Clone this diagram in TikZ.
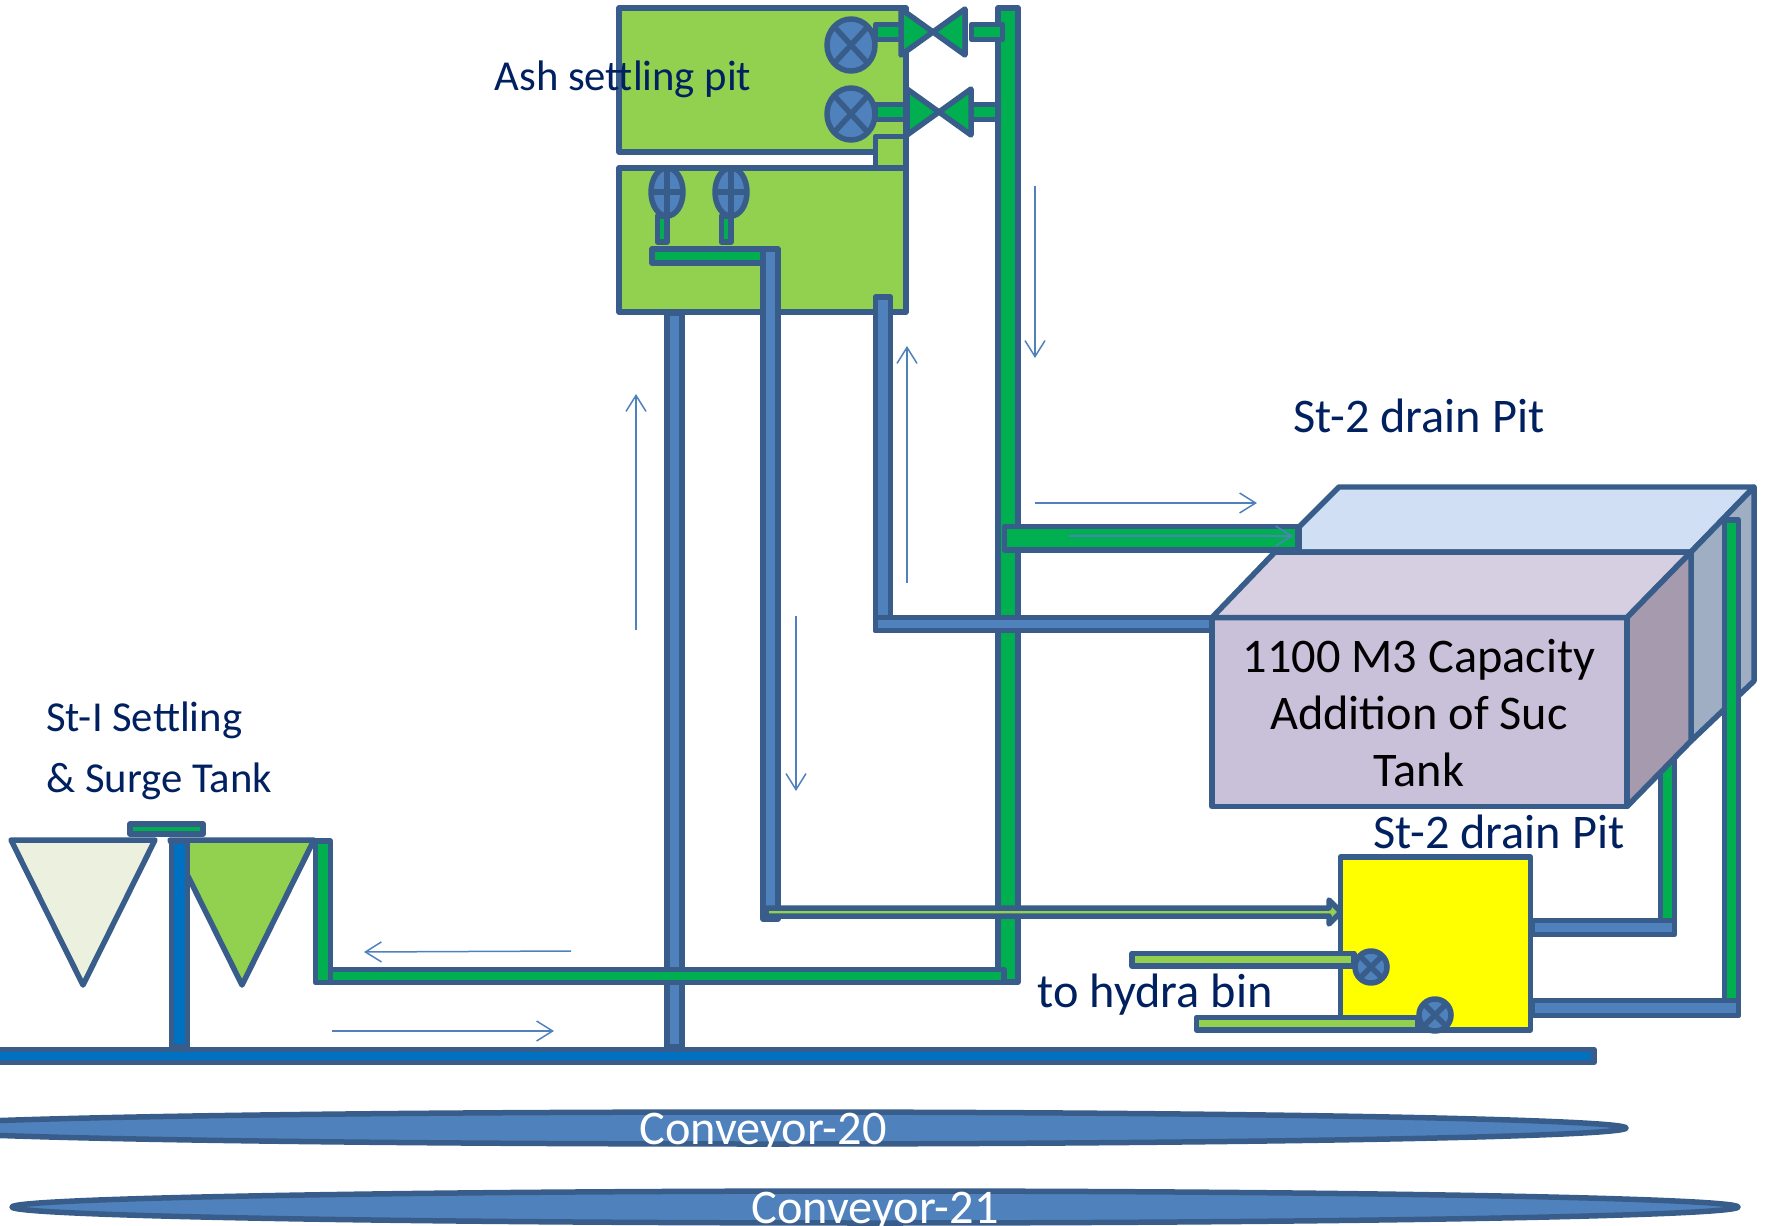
\documentclass[tikz,border=0pt]{standalone}
\usepackage{fontspec}
\setmainfont{Carlito}
\usetikzlibrary{arrows.meta}
\definecolor{edge}{HTML}{385D8A}
\definecolor{pipeblue}{HTML}{4F81BD}
\definecolor{deepblue}{HTML}{0070C0}
\definecolor{pipegreen}{HTML}{00B050}
\definecolor{pitgreen}{HTML}{92D050}
\definecolor{navy}{HTML}{002060}
\definecolor{reartop}{HTML}{D0DFF4}
\definecolor{rearside}{HTML}{A0AEC4}
\definecolor{tankfront}{HTML}{C9C0DA}
\definecolor{tanktop}{HTML}{D6CFE2}
\definecolor{tankside}{HTML}{A59AAE}
\definecolor{palecone}{HTML}{EBF1DE}
\definecolor{drainyellow}{HTML}{FFFF00}
\tikzset{
  part/.style={draw=edge, line width=1.1mm, line join=round},
  bpipe/.style={part, fill=pipeblue}, dpipe/.style={part, fill=deepblue},
  gpipe/.style={part, fill=pipegreen}, lgpipe/.style={part, fill=pitgreen},
  flow/.style={draw=pipeblue, line width=0.3mm, -{Straight Barb[length=3.2mm, width=4mm]}},
  lbl/.style={text=navy, inner sep=0pt, font=\fontsize{27.5}{32}\selectfont},
  lbls/.style={lbl, font=\fontsize{24.3}{28}\selectfont},
  tanktxt/.style={inner sep=0pt, align=center, font=\fontsize{27.5}{32.3}\selectfont},
  belttxt/.style={text=white, inner sep=0pt, font=\fontsize{27.5}{32}\selectfont},
}

\begin{document}
\begin{tikzpicture}[x=0.02cm, y=-0.02cm]
    \clip (0,0) rectangle (1765,1226);
    % rear tank
    \draw[part, fill=reartop] (1299,552) -- (1299,527) -- (1339,487) -- (1754,487) -- (1691,552) -- cycle;
    \draw[part, fill=rearside] (1691,552) -- (1754,487) -- (1754,681) -- (1691,741) -- cycle;
    % pipes on the right
    \draw[gpipe] (1724.5,520) rectangle (1738.5,1015);
    \draw[gpipe] (1660.5,700) rectangle (1674.5,925);
    \draw[bpipe] (1532,1000.5) rectangle (1738.5,1015.5);
    \draw[bpipe] (1532,920.5) rectangle (1674.5,934.5);
    % main green riser
    \draw[gpipe] (998,8) rectangle (1018,982);
    % pits
    \draw[lgpipe] (619,8) rectangle (906,152);
    \draw[lgpipe] (619,168) rectangle (906,312);
    \draw[lgpipe] (875.5,136.5) rectangle (906,168);
    % lower pit pipes
    \draw[bpipe] (667,313) rectangle (682,1047);
    \draw[bpipe] (875.5,297) rectangle (890.5,630.5);
    \draw[bpipe] (875.5,617.5) rectangle (1212,630.5);
    \draw[gpipe] (652,249) rectangle (763,263);
    \draw[bpipe] (763,249) rectangle (778,919);
    \draw[gpipe] (657.5,216) rectangle (667,242);
    \draw[gpipe] (721.5,216) rectangle (731,242);
    % valves in lower pit
    \draw[bpipe] (667,192) ellipse [x radius=16, y radius=24];
    \draw[part] (667,168) -- (667,216) (651,192) -- (683,192);
    \draw[bpipe] (731,192) ellipse [x radius=16, y radius=24];
    \draw[part] (731,168) -- (731,216) (715,192) -- (747,192);
    % valves in upper pit
    \draw[gpipe] (875.5,24.5) rectangle (906,39.5);
    \draw[gpipe] (875.5,104.5) rectangle (906,119.5);
    \draw[gpipe] (971.5,24.5) rectangle (1002.5,39.5);
    \draw[gpipe] (971.5,104.5) rectangle (998,119.5);
    \draw[bpipe] (851,45) ellipse [x radius=24, y radius=26];
    \draw[part] (834,26.5) -- (868,63.5) (868,26.5) -- (834,63.5);
    \draw[bpipe] (851,114) ellipse [x radius=24, y radius=26];
    \draw[part] (834,95.5) -- (868,132.5) (868,95.5) -- (834,132.5);
    \draw[gpipe] (901,9) -- (933,32) -- (901,55) -- cycle;
    \draw[gpipe] (965,9) -- (933,32) -- (965,55) -- cycle;
    \draw[gpipe] (907,89) -- (939,112) -- (907,135) -- cycle;
    \draw[gpipe] (971,89) -- (939,112) -- (971,135) -- cycle;
    % tank
    \draw[part, fill=tankfront] (1212,617.5) rectangle (1627,806.5);
    \draw[part, fill=tanktop] (1212,617.5) -- (1275,552) -- (1691,552) -- (1627,617.5) -- cycle;
    \draw[part, fill=tankside] (1627,617.5) -- (1691,552) -- (1691,741) -- (1627,806.5) -- cycle;
    % pipes into tanks
    \draw[gpipe] (1004.5,526.5) rectangle (1298,550);
    \draw[lgpipe] (766,908) -- (1329,908) -- (1329,900) -- (1341,912) -- (1329,924) -- (1329,916) -- (766,916) -- cycle;
    % drain pit
    \draw[part, fill=drainyellow] (1340.5,857) rectangle (1530.5,1030);
    \draw[lgpipe] (1132,953.5) rectangle (1354,966);
    \draw[lgpipe] (1196.5,1017.5) rectangle (1418,1030);
    \draw[bpipe] (1371,967) circle [radius=16];
    \draw[part] (1360,956) -- (1382,978) (1382,956) -- (1360,978);
    \draw[bpipe] (1435,1015) circle [radius=16];
    \draw[part] (1424,1004) -- (1446,1026) (1446,1004) -- (1424,1026);
    % settling tanks
    \draw[part, fill=palecone] (11,840) -- (155,840) -- (83,985) -- cycle;
    \draw[lgpipe] (170,840) -- (314,840) -- (242,985) -- cycle;
    \draw[gpipe] (130,824) rectangle (203,834);
    \draw[dpipe] (171.5,841) rectangle (187.5,1047);
    \draw[gpipe] (315.5,841) rectangle (330.5,982.5);
    \draw[gpipe] (330.5,969.5) rectangle (1004,982.5);
    % bottom belts
    \draw[dpipe] (-10,1049.5) rectangle (1594,1062.5);
    \draw[bpipe] (763,1128) ellipse [x radius=863, y radius=16];
    \draw[bpipe] (875,1207) ellipse [x radius=863, y radius=16];
    % flow arrows
    \draw[flow] (636,630) -- (636,394);
    \draw[flow] (796,616) -- (796,791);
    \draw[flow] (907,583) -- (907,346);
    \draw[flow] (1035,186) -- (1035,358);
    \draw[flow] (1035,503) -- (1257,503);
    \draw[flow] (1069,536) -- (1293,536);
    \draw[flow] (571,951) -- (364,952);
    \draw[flow] (332,1031) -- (554,1031);
    % labels
    \node[lbls] (ash) at (623,79) {Ash settling pit};
    \node[lbl] (draina) at (1419,416) {St-2 drain Pit};
    \node[lbl] (drainb) at (1499,832) {St-2 drain Pit};
    \node[lbls, anchor=west] (stone) at (46,720) {St-I Settling};
    \node[lbls, anchor=west] (surge) at (46,781) {\& Surge Tank};
    \node[lbl] (hydra) at (1155,995) {to hydra bin};
    \node[tanktxt] (cap) at (1419,713) {1100 M3 Capacity\\Addition of Suc\\Tank};
    \node[belttxt] (beltone) at (763,1133) {Conveyor-20};
    \node[belttxt] (belttwo) at (875,1212) {Conveyor-21};
\end{tikzpicture}
\end{document}
